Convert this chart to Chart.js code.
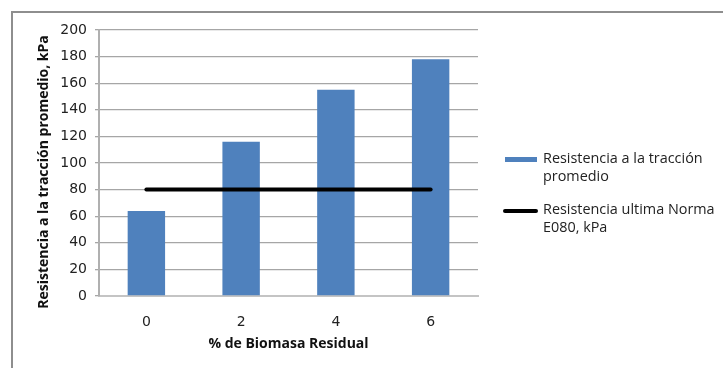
<!DOCTYPE html>
<html>
<head>
<meta charset="utf-8">
<script src="https://cdn.jsdelivr.net/npm/chart.js@4"></script>
<style>
  html, body { margin: 0; padding: 0; background: #fff; }
  #wrap { position: relative; width: 723px; height: 368px; overflow: hidden; }
  #frame { position: absolute; left: 11px; top: 11px; width: 740px; height: 400px;
           border-left: 2px solid #8e8e8e; border-top: 2px solid #8e8e8e; box-sizing: border-box; }
  canvas { position: absolute; left: 0; top: 0; }
  #legend { position: absolute; left: 505px; top: 149px; font-family: "Open Sans", "Liberation Sans", sans-serif;
            font-size: 14.4px; color: #222; line-height: 18px; }
  .item { position: relative; padding-left: 38px; margin-bottom: 15px; }
  .sw { position: absolute; left: 0; }
  .bar { top: 8px; width: 32px; height: 5px; background: #4f81bd; }
  .ln { top: 9px; width: 35px; height: 4px; background: #000; border-radius: 2px; left: -2px; }
</style>
</head>
<body>
<div id="wrap">
  <div id="frame"></div>
  <canvas id="c" width="723" height="368"></canvas>
  <div id="legend">
    <div class="item"><span class="sw bar"></span>Resistencia a la tracción<br>promedio</div>
    <div class="item"><span class="sw ln"></span>Resistencia ultima Norma<br>E080, kPa</div>
  </div>
</div>
<script>
// Biomass percentage categories
const categories = ['0', '2', '4', '6'];
// Average tensile strength (kPa)
const resistenciaPromedio = [64, 116, 155, 178];
// Ultimate strength required by standard E080 (kPa)
const normaE080 = [80, 80, 80, 80];
// Y-axis range and step
const yMin = 0, yMax = 200, yStep = 20;
// Axis titles
const xTitle = '% de Biomasa Residual';
const yTitle = 'Resistencia a la tracción promedio, kPa';

const tickFont = { family: '"DejaVu Sans", sans-serif', size: 14 };
const titleFont = 'bold 14px "Open Sans", "Liberation Sans", sans-serif';

// Draws both axis titles at fixed offsets from the plot area
const axisTitles = {
  id: 'axisTitles',
  afterDraw(chart) {
    const { ctx, chartArea } = chart;
    ctx.save();
    ctx.fillStyle = '#111';
    ctx.font = titleFont;
    ctx.textAlign = 'center';
    ctx.textBaseline = 'middle';
    ctx.fillText(xTitle, (chartArea.left + chartArea.right) / 2, chartArea.bottom + 48);
    ctx.translate(chartArea.left - 55, (chartArea.top + chartArea.bottom) / 2 + 9);
    ctx.rotate(-Math.PI / 2);
    ctx.fillText(yTitle, 0, 0);
    ctx.restore();
  }
};

new Chart(document.getElementById('c'), {
  type: 'bar',
  data: {
    labels: categories,
    datasets: [
      {
        type: 'line',
        label: 'Resistencia ultima Norma E080, kPa',
        data: normaE080,
        borderColor: '#000',
        borderWidth: 4,
        borderCapStyle: 'round',
        pointRadius: 0,
        fill: false,
        order: 0
      },
      {
        type: 'bar',
        label: 'Resistencia a la tracción promedio',
        data: resistenciaPromedio,
        backgroundColor: '#4f81bd',
        categoryPercentage: 1,
        barPercentage: 0.395,
        order: 1
      }
    ]
  },
  options: {
    responsive: false,
    animation: false,
    layout: { padding: { left: 20, right: 245, top: 30, bottom: 0 } },
    plugins: { legend: { display: false }, tooltip: { enabled: false } },
    scales: {
      x: {
        grid: { display: false, drawTicks: false },
        border: { color: '#c4c4c4', width: 2 },
        ticks: { font: tickFont, color: '#222', padding: 18 },
        afterFit: s => { s.height = 72; }
      },
      y: {
        min: yMin, max: yMax,
        grid: { color: '#a6a6a6', lineWidth: 1.3, tickLength: 4 },
        border: { color: '#b0b0b0', width: 2 },
        ticks: { stepSize: yStep, font: tickFont, color: '#222', padding: 8 },
        afterFit: s => { s.width = 79; }
      }
    }
  },
  plugins: [axisTitles]
});
</script>
</body>
</html>
